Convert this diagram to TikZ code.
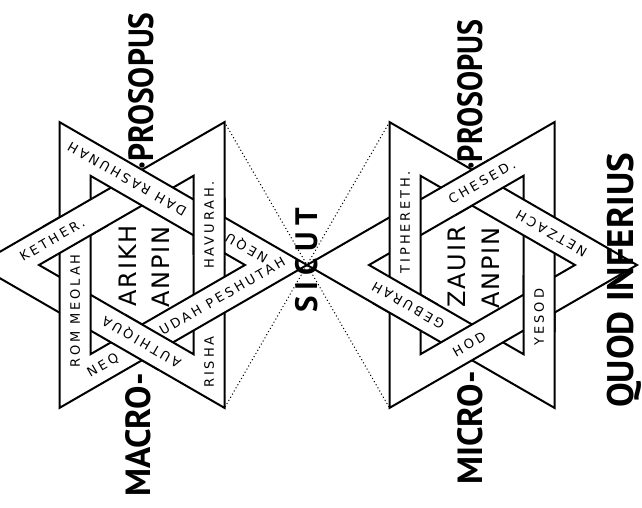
\documentclass[tikz,border=0pt]{standalone}
\usepackage{fontspec}
\usepackage{graphicx}
\usetikzlibrary{calc}
\newfontfamily\bigfont{PT Sans}
\newfontfamily\sicutfont{PT Sans}[LetterSpace=20]
\newfontfamily\lblfont{DejaVu Sans}[LetterSpace=22]
\newfontfamily\ctrfont{DejaVu Sans}[LetterSpace=8]
\newcommand\starband[2]{%
  \fill[white,even odd rule] ($(#1)+(#2:165)$) -- ($(#1)+(#2+120:165)$) -- ($(#1)+(#2+240:165)$) -- cycle
    ($(#1)+(#2:103)$) -- ($(#1)+(#2+120:103)$) -- ($(#1)+(#2+240:103)$) -- cycle;
  \draw[bandline] ($(#1)+(#2:165)$) -- ($(#1)+(#2+120:165)$) -- ($(#1)+(#2+240:165)$) -- cycle
    ($(#1)+(#2:103)$) -- ($(#1)+(#2+120:103)$) -- ($(#1)+(#2+240:103)$) -- cycle;}
\begin{document}
\begin{tikzpicture}[x=1pt,y=1pt,
  bandline/.style={line width=2pt, line join=miter},
  dotline/.style={line width=1.5pt, dash pattern=on 0.01pt off 3.6pt, line cap=round},
  big/.style={font=\bigfont\bfseries\fontsize{35}{35}\selectfont, inner sep=0pt, rotate=90, anchor=base west},
  lbl/.style={font=\lblfont\fontsize{13}{13}\selectfont, inner sep=0pt, text height=9.5pt, text depth=0pt, anchor=center},
  ctr/.style={font=\ctrfont\fontsize{24}{24}\selectfont, inner sep=0pt, text height=17.5pt, text depth=0pt, rotate=90, anchor=center}]
\fill[white] (0,0) rectangle (642,507);
\useasboundingbox (0,0) rectangle (642,507);
\coordinate (L) at (142,242);
\coordinate (R) at (472,242);
\coordinate (J) at (307,242);
% big words behind the stars
\node[big] (macro) at (150,10) {MACRO-};
\node[big] (prosL) at (153,337) {\scalebox{0.9}[1]{·PROSOPUS}};
\node[big] (micro) at (482,22) {MICRO-};
\node[big] (prosR) at (482,337) {\scalebox{0.86}[1]{·PROSOPUS}};
% dotted lines
\coordinate (Ltr) at ($(L)+(60:165)$);
\coordinate (Lbr) at ($(L)+(300:165)$);
\coordinate (Rtl) at ($(R)+(120:165)$);
\coordinate (Rbl) at ($(R)+(240:165)$);
\draw[dotline] (Ltr) -- (J) -- (Lbr);
\draw[dotline] (Rtl) -- (J) -- (Rbl);
% left star (interlaced)
\starband{L}{60}
\starband{L}{0}
\foreach \a in {30,150,270}{%
  \begin{scope}
    \clip ($(L)+(\a:77.4)$) circle[radius=33pt];
    \starband{L}{60}
  \end{scope}}
% right star (interlaced)
\starband{R}{60}
\starband{R}{0}
\foreach \a in {90,210,330}{%
  \begin{scope}
    \clip ($(R)+(\a:77.4)$) circle[radius=33pt];
    \starband{R}{60}
  \end{scope}}
% left star labels
\node[lbl, rotate=30] (kether) at ($(L)+(120:67)+(210:65)$) {KETHER.};
\node[lbl, rotate=150] (rashunah) at ($(L)+(60:67)+(150:56)$) {DAH RASHUNAH};
\node[lbl, rotate=150] (nequ) at ($(L)+(60:67)+(-30:82)$) {NEQU};
\node[lbl, rotate=30] (peshutah) at ($(L)+(300:67)+(30:54)$) {UDAH PESHUTAH};
\node[lbl, rotate=30] (neq) at ($(L)+(300:67)+(210:84)$) {NEQ};
\node[lbl, rotate=150] (authiqua) at ($(L)+(240:67)+(-30:38)$) {AUTHIQUA};
\node[lbl, rotate=90] (rom) at ($(L)+(180:67)+(270:46)$) {ROM MEOLAH};
\node[lbl, rotate=90] (havurah) at ($(L)+(0:67)+(90:40)$) {HAVURAH.};
\node[lbl, rotate=90] (risha) at ($(L)+(0:67)+(270:97)$) {RISHA};
\node[ctr] (arikh) at ($(L)+(-14,-1)$) {ARIKH};
\node[ctr] (anpinL) at ($(L)+(19,-2)$) {ANPIN};
% right star labels
\node[lbl, rotate=90] (tiphereth) at ($(R)+(180:67)+(90:43)$) {TIPHERETH.};
\node[lbl, rotate=30] (chesed) at ($(R)+(120:67)+(30:50)$) {CHESED.};
\node[lbl, rotate=150] (netzach) at ($(R)+(60:67)+(-30:53)$) {NETZACH};
\node[lbl, rotate=150] (geburah) at ($(R)+(240:67)+(150:35)$) {GEBURAH};
\node[lbl, rotate=30] (hod) at ($(R)+(300:67)+(210:42)$) {HOD};
\node[lbl, rotate=90] (yesod) at ($(R)+(0:67)+(270:52)$) {YESOD};
\node[ctr] (zauir) at ($(R)+(-15,-2)$) {ZAUIR};
\node[ctr] (anpinR) at ($(R)+(19,-3)$) {ANPIN};
% words on top
\node[font=\sicutfont\bfseries\fontsize{31}{31}\selectfont, inner sep=0pt, rotate=90, anchor=base west] (sicut) at (317,194) {SICUT};
\node[big, font=\bigfont\bfseries\fontsize{37}{37}\selectfont] (quod) at (633,99) {QUOD INFERIUS};
\end{tikzpicture}
\end{document}
